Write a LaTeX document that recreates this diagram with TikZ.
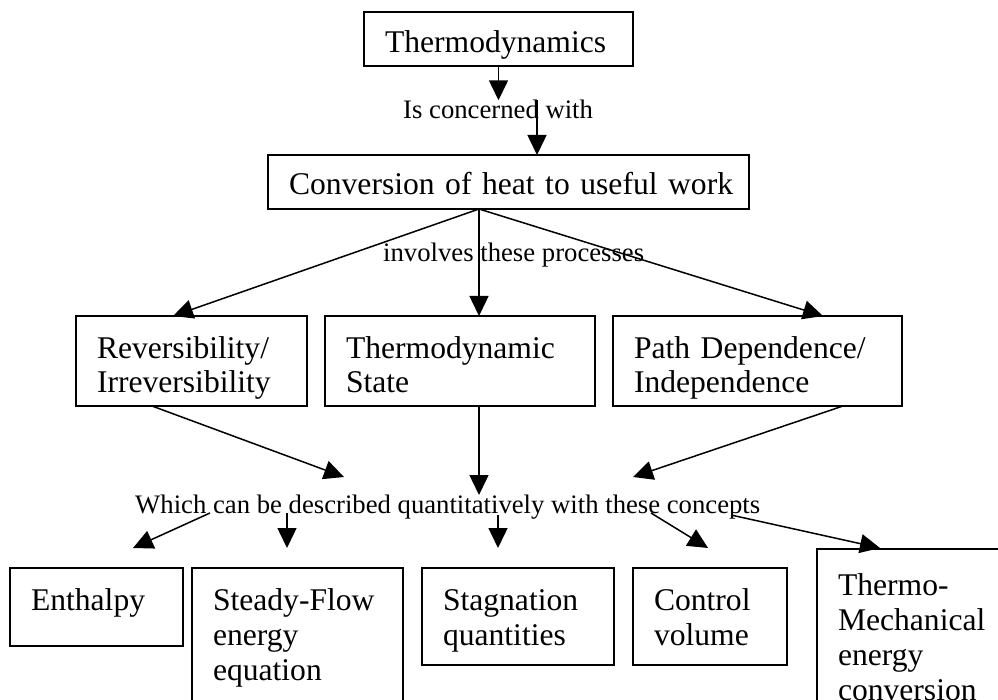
\documentclass[tikz,border=0pt]{standalone}
\usepackage{fontspec}
\setmainfont{Liberation Serif}
\usetikzlibrary{arrows.meta,calc}

\newcommand\boxfont{\fontsize{31.6}{35}\selectfont}
\newcommand\linkfont{\fontsize{26.7}{30}\selectfont}

\tikzset{
  box/.style={draw, line width=1.5pt, anchor=north west, align=left,
    inner xsep=21pt, inner ysep=0pt, outer sep=0pt, font=\boxfont},
  lbl/.style={anchor=base west, inner sep=0pt, font=\linkfont},
  arr/.style={-{Triangle[length=20pt,width=19pt]}, line width=1.5pt},
}

\begin{document}
\begin{tikzpicture}[x=1pt, y=-1pt]

\clip (0,0) rectangle (998,700);

% Top boxes
\node[box, text width=227pt, text height=41pt, text depth=13pt] (thermo) at (364,12) {Thermodynamics};
\node[box, text width=439pt, text height=40pt, text depth=14pt] (conv) at (268,155) {\mbox{Conversion of heat to useful work}};

% Processes
\node[box, text width=189pt, text height=42pt, text depth=48pt] (rev) at (76,316) {Reversibility/\\Irreversibility};
\node[box, text width=228pt, text height=42pt, text depth=48pt] (state) at (325,316) {Thermodynamic\\State};
\node[box, text width=247pt, text height=42pt, text depth=48pt] (path) at (613,316) {Path Dependence/\\Independence};

% Concepts
\node[box, text width=131pt, text height=42pt, text depth=36pt] (enth) at (10,568) {Enthalpy};
\node[box, text width=169pt, text height=42pt, text depth=108pt] (steady) at (192,568) {Steady-Flow\\energy\\equation};
\node[box, text width=150pt, text height=42pt, text depth=55pt] (stag) at (422,568) {Stagnation\\quantities};
\node[box, text width=112pt, text height=42pt, text depth=55pt] (ctrl) at (633,568) {Control\\volume};
\node[box, text width=158pt, text height=46pt, text depth=124pt] (tmech) at (817,549) {Thermo-\\Mechanical\\energy\\conversion};

% Link labels
\node[lbl] (concern) at (403,119) {Is concerned with};
\node[lbl] (involve) at (383,262) {involves these processes};
\node[lbl] (which) at (135,513) {Which can be described quantitatively with these concepts};

% Arrows at the top
\draw[arr] (thermo.south) -- (thermo.south |- concern.north);
\draw[arr] ($(concern.north west)+(134,0)$) -- ($(conv.north west)+(269,0)$);

\coordinate (fork) at ($(conv.south west)+(211,0)$);
\draw[arr] (fork) -- ($(rev.north west)+(97,0)$);
\draw[arr] (fork) -- (fork |- state.north);
\draw[arr] (fork) -- ($(path.north west)+(210,0)$);

% Into the concepts label
\draw[arr] ($(rev.south west)+(76,0)$) -- ($(which.base west)+(209,-36)$);
\draw[arr] (state.south -| fork) -- ($(which.base west)+(344,-18)$);
\draw[arr] ($(path.south west)+(230,0)$) -- ($(which.base west)+(498,-36)$);

% Out to the concepts
\foreach \dx/\dy/\n/\ex/\ey in {75/0/enth/123/-20, 152/0/steady/95/-20, 363/2/stag/76/-20, 516/0/ctrl/75/-20, 596/2/tmech/63/-1} {
    \draw[arr] ($(which.base west)+(\dx,\dy)$) -- ($(\n.north west)+(\ex,\ey)$);
}

\end{tikzpicture}
\end{document}
